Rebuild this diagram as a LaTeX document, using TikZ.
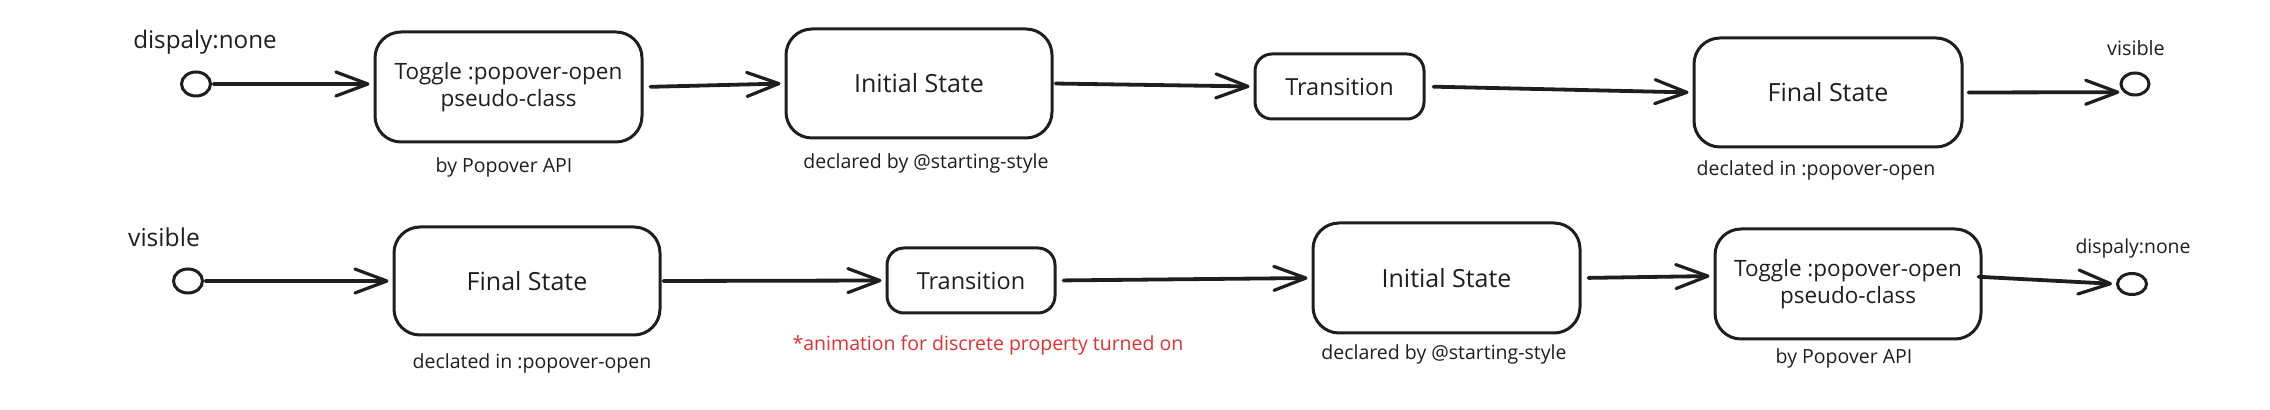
\documentclass[tikz,border=0pt]{standalone}
\usepackage{fontspec}
\setmainfont{Open Sans}
\usetikzlibrary{arrows.meta,shapes.geometric}
\definecolor{ink}{HTML}{1E1E1E}
\definecolor{redtxt}{HTML}{E03131}
\newcommand{\setfs}[2]{\fontsize{#1}{#2}\selectfont}
\begin{document}
\begin{tikzpicture}[x=0.5pt,y=-0.5pt,
  bigbox/.style={draw=ink, line width=1.5pt, rounded corners=13pt, minimum width=133pt, minimum height=55pt, inner sep=0pt, text=ink, align=center, font=\setfs{12.5}{15}},
  smallbox/.style={draw=ink, line width=1.5pt, rounded corners=8.5pt, minimum width=84.5pt, minimum height=32.5pt, inner sep=0pt, text=ink, font=\setfs{11.75}{14}},
  endpt/.style={draw=ink, line width=1.5pt, ellipse, minimum width=14.5pt, minimum height=12pt, inner sep=0pt},
  lbl/.style={text=ink, inner sep=0pt, font=\setfs{9.75}{12}},
  conn/.style={draw=ink, line width=1.9pt, line cap=round, -{Straight Barb[length=16pt,width=12pt,round,line width=1.6pt]}, shorten >=2pt, shorten <=1pt},
]
\useasboundingbox (0,0) rectangle (2270,410);

% ---------- row 1 ----------
\node[endpt] (s1) at (196,84) {};
\node[lbl, font=\setfs{12.1}{14}] (s1l) at (205,42) {dispaly:none};
\node[bigbox, minimum width=133.5pt, font=\setfs{11.25}{13.5}] (t1) at (508.5,87) {Toggle :popover-open\\pseudo-class};
\node[lbl] (t1l) at (504,167) {by Popover API};
\node[bigbox, minimum height=54.5pt] (i1) at (919,83.5) {Initial State};
\node[lbl] (i1l) at (926,163) {declared by @starting-style};
\node[smallbox] (r1) at (1339.5,86.5) {Transition};
\node[bigbox, minimum width=134pt, minimum height=54.5pt] (f1) at (1828,92.5) {Final State};
\node[lbl] (f1l) at (1816,170) {declated in :popover-open};
\node[endpt, minimum width=14pt, minimum height=11pt] (e1) at (2135,84) {};
\node[lbl, font=\setfs{9.9}{12}] (e1l) at (2136,48) {visible};

\draw[conn] (s1.east) -- ([yshift=1.5pt]t1.west);
\draw[conn, shorten <=3.5pt] (t1.east) -- (i1.west);
\draw[conn] (i1.east) -- (r1.west);
\draw[conn, shorten <=4pt] (r1.east) -- (f1.west);
\draw[conn, shorten <=2.5pt] (f1.east) -- (e1.215);

% ---------- row 2 ----------
\node[endpt] (s2) at (188,281) {};
\node[lbl, font=\setfs{12.3}{14}] (s2l) at (164,237) {visible};
\node[bigbox, minimum height=54pt] (f2) at (527,281) {Final State};
\node[lbl] (f2l) at (532,363) {declated in :popover-open};
\node[smallbox, minimum width=84pt] (r2) at (971,280.5) {Transition};
\node[lbl, text=redtxt] (r2l) at (988,345) {*animation for discrete property turned on};
\node[bigbox, minimum width=133.5pt] (i2) at (1446.5,278) {Initial State};
\node[lbl] (i2l) at (1444,354) {declared by @starting-style};
\node[bigbox, font=\setfs{11.25}{13.5}] (t2) at (1848,284) {Toggle :popover-open\\pseudo-class};
\node[lbl] (t2l) at (1844,358) {by Popover API};
\node[endpt, minimum width=14.5pt, minimum height=10.5pt] (e2) at (2132,284) {};
\node[lbl, font=\setfs{9.7}{12}] (e2l) at (2133,248) {dispaly:none};

\draw[conn] (s2.east) -- (f2.west);
\draw[conn] (f2.east) -- (r2.west);
\draw[conn, shorten <=3.5pt] (r2.east) -- (i2.west);
\draw[conn, shorten <=3.5pt] (i2.east) -- ([yshift=4pt]t2.west);
\draw[conn, shorten <=-2pt] ([yshift=3.5pt]t2.east) -- (e2.west);
\end{tikzpicture}
\end{document}
